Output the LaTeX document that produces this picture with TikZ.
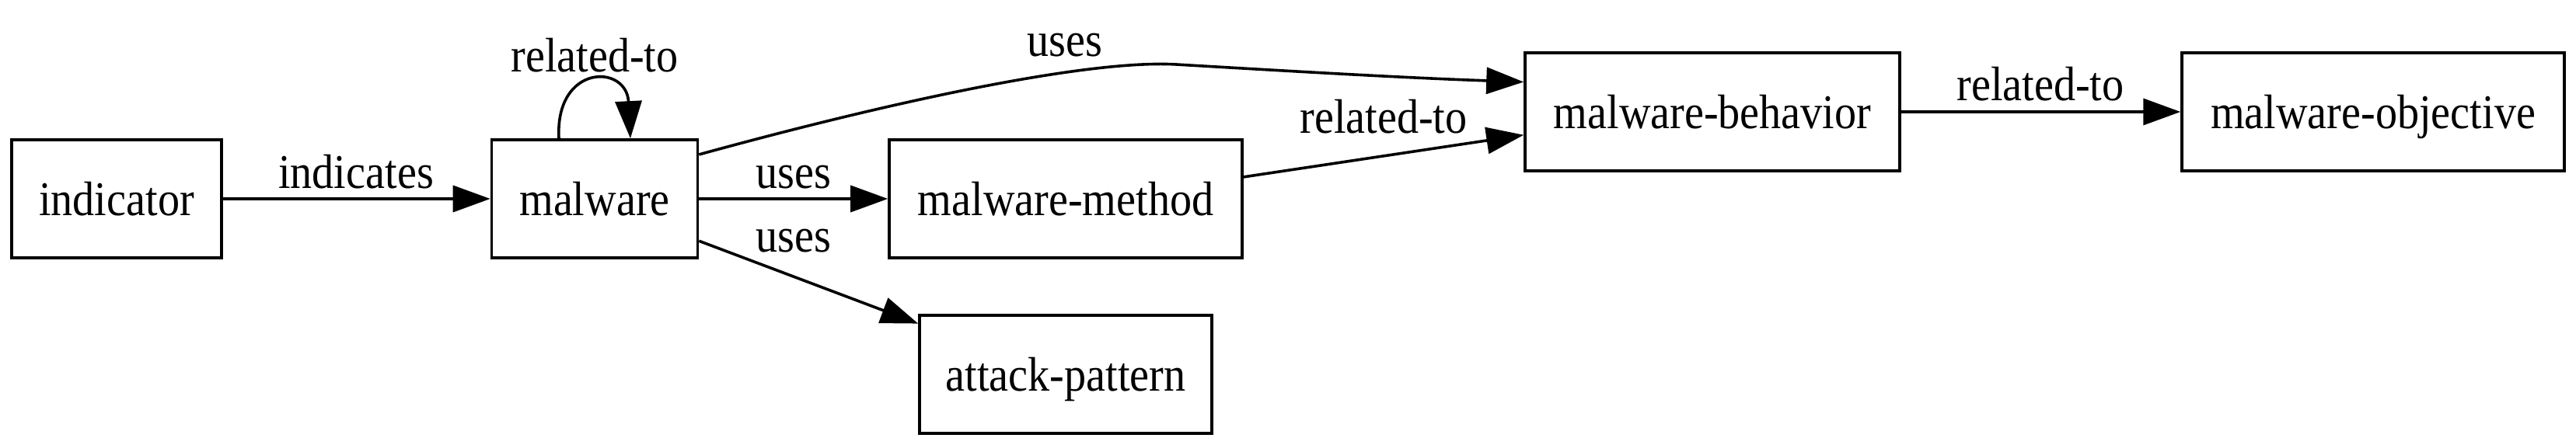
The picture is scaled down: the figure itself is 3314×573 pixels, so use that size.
\documentclass[tikz,border=0pt]{standalone}
\usepackage{fontspec}
\setmainfont{Liberation Serif}[FakeStretch=0.9]
\usetikzlibrary{arrows.meta,calc}
\begin{document}
\begin{tikzpicture}[x=0.25pt,y=-0.25pt,
  every node/.style={font=\fontsize{15.6}{18}\selectfont},
  box/.style={draw,line width=0.9pt,rectangle,inner sep=0pt,minimum height=38pt,text height=14pt,text depth=3pt},
  lbl/.style={anchor=base,inner sep=0pt},
  edge/.style={line width=0.9pt,-{Triangle[length=12pt,width=8.5pt]}}]
\useasboundingbox (0,0) rectangle (3314,573);
\node[box,minimum width=67.5pt] (indicator) at (150,256) {indicator};
\node[box,minimum width=66.25pt] (malware) at (765,256) {malware};
\node[box,minimum width=113.5pt] (method) at (1371,256) {malware-method};
\node[box,minimum width=94pt] (attack) at (1371,482) {attack-pattern};
\node[box,minimum width=120.5pt] (behavior) at (2203,144) {malware-behavior};
\node[box,minimum width=123pt] (objective) at (3053,144) {malware-objective};
% edges
\draw[edge] (indicator) -- (malware);
\node[lbl] (l1) at (458,243) {indicates};
\draw[edge] ($(malware.north)+(-46,0)$) .. controls (714,82) and (806,82) .. ($(malware.north)+(46,0)$);
\node[lbl] (l2) at (765,93) {related-to};
\draw[edge] (malware) -- (method);
\node[lbl] (l3) at (1021,243) {uses};
\draw[edge] (malware.-22.5) -- (attack.161.8);
\node[lbl] (l4) at (1021,325) {uses};
\coordinate (peak) at (1513,83);
\draw[edge] (malware.23.2) .. controls (1150,130) and (1400,76.5) .. (peak) .. controls (1650,91) and (1800,100) .. (behavior.171.7);
\node[lbl] (l5) at (1370,73) {uses};
\draw[edge] (method.7.8) -- (behavior.187.3);
\node[lbl] (l6) at (1780,172) {related-to};
\draw[edge] (behavior) -- (objective);
\node[lbl] (l7) at (2625,130) {related-to};
\end{tikzpicture}
\end{document}
